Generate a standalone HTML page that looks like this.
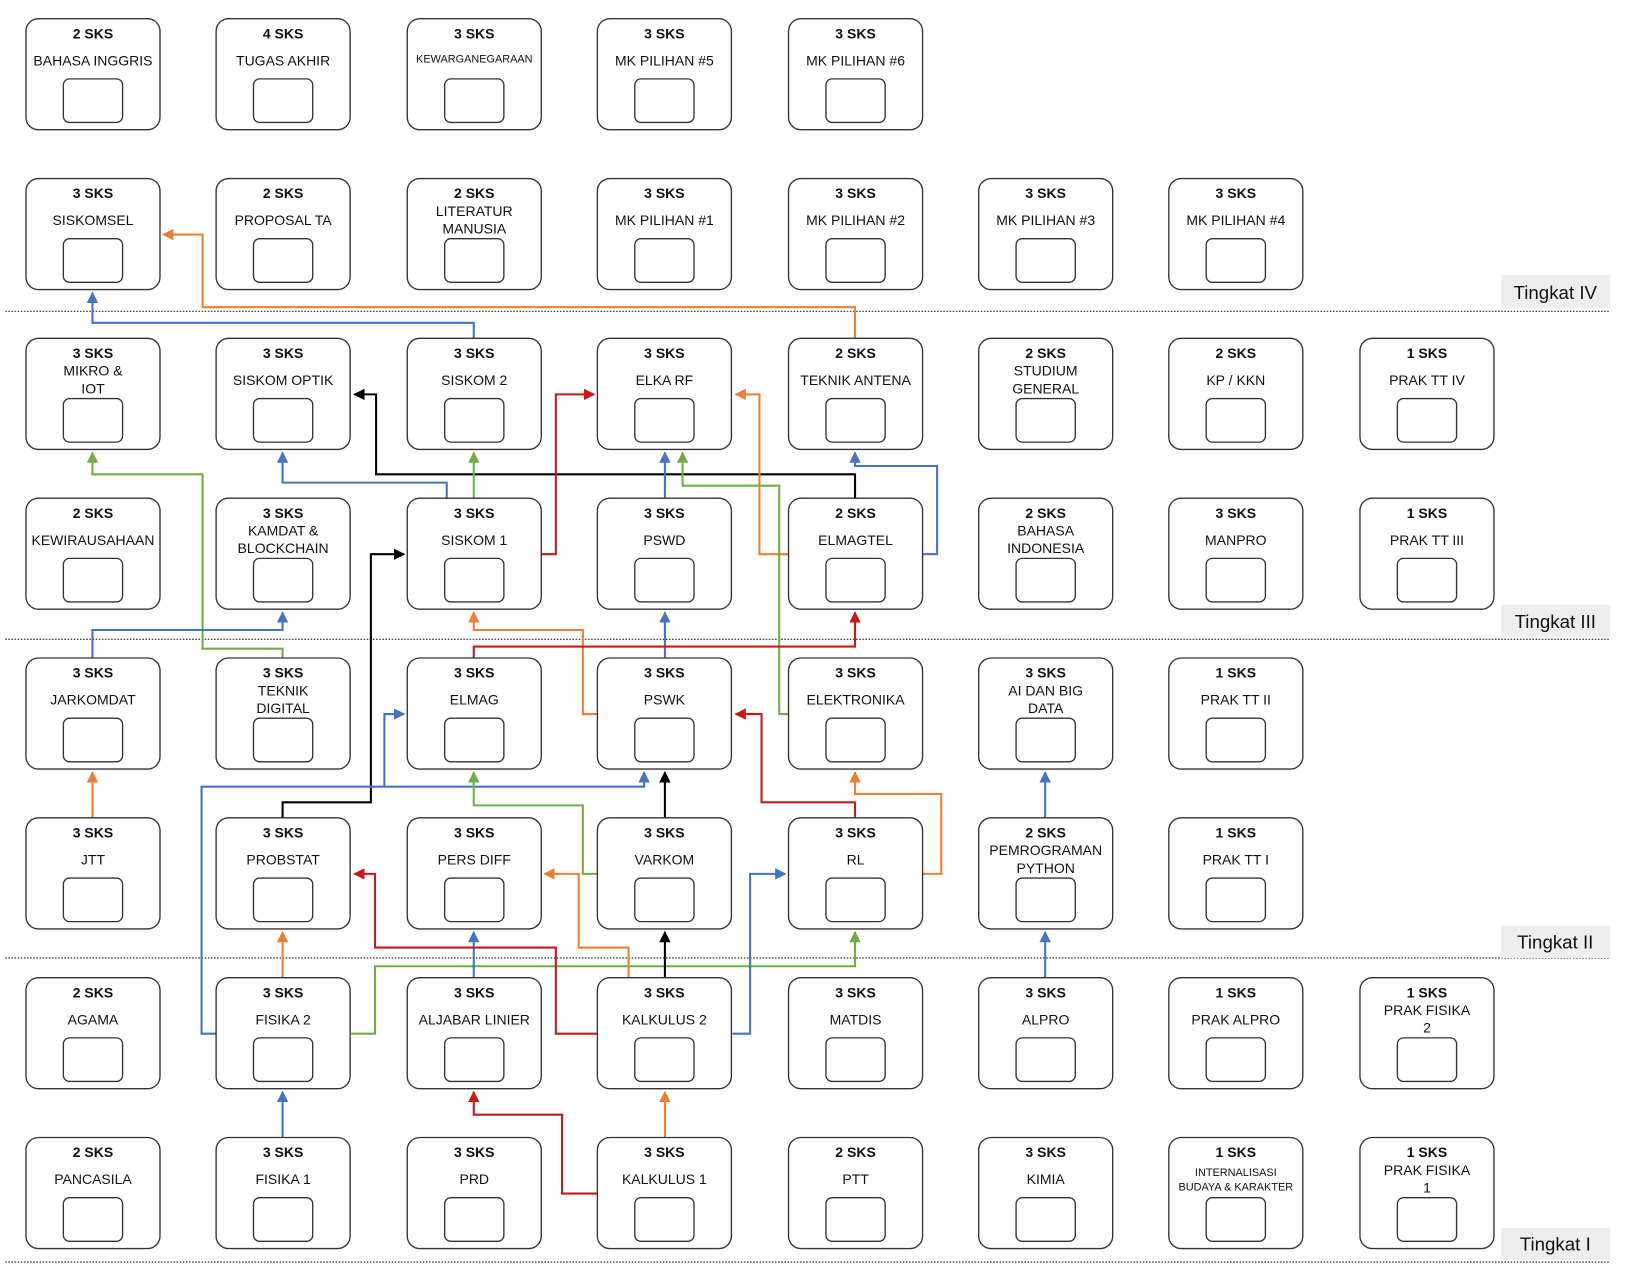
<!DOCTYPE html>
<html><head><meta charset="utf-8"><style>
html,body{margin:0;padding:0;background:#fff;}
svg{display:block;}
text{font-family:"Liberation Sans",Arial,sans-serif;text-anchor:middle;fill:#111;font-size:13.5px;}
text.s{font-weight:bold;}
text.sm{font-size:10.5px;}
text.t{font-size:18px;}
.o{fill:#fff;stroke:#333;stroke-width:1.3;}
.i{fill:#fff;stroke:#333;stroke-width:1.3;}
.l{fill:none;stroke-width:2;}
.or{stroke:#ec7f36;}.bl{stroke:#4472c4;}.gr{stroke:#70ad47;}.rd{stroke:#c81818;}.bk{stroke:#000;}
.sep{stroke:#444;stroke-width:1.3;stroke-dasharray:1.5 1.5;}
</style></head><body>
<svg width="1628" height="1277" viewBox="0 0 1567 1230.4" preserveAspectRatio="none" xmlns="http://www.w3.org/2000/svg">
<defs>
<marker id="aor" viewBox="0 0 10 10" refX="9" refY="5" markerWidth="11" markerHeight="11" markerUnits="userSpaceOnUse" orient="auto"><path d="M0,0L10,5L0,10z" fill="#ec7f36"/></marker>
<marker id="abl" viewBox="0 0 10 10" refX="9" refY="5" markerWidth="11" markerHeight="11" markerUnits="userSpaceOnUse" orient="auto"><path d="M0,0L10,5L0,10z" fill="#4472c4"/></marker>
<marker id="agr" viewBox="0 0 10 10" refX="9" refY="5" markerWidth="11" markerHeight="11" markerUnits="userSpaceOnUse" orient="auto"><path d="M0,0L10,5L0,10z" fill="#70ad47"/></marker>
<marker id="ard" viewBox="0 0 10 10" refX="9" refY="5" markerWidth="11" markerHeight="11" markerUnits="userSpaceOnUse" orient="auto"><path d="M0,0L10,5L0,10z" fill="#c81818"/></marker>
<marker id="abk" viewBox="0 0 10 10" refX="9" refY="5" markerWidth="11" markerHeight="11" markerUnits="userSpaceOnUse" orient="auto"><path d="M0,0L10,5L0,10z" fill="#000"/></marker>
</defs>

<!-- separators -->
<line class="sep" x1="5" y1="300" x2="1550" y2="300"/>
<line class="sep" x1="5" y1="616" x2="1550" y2="616"/>
<line class="sep" x1="5" y1="923" x2="1550" y2="923"/>
<line class="sep" x1="5" y1="1216" x2="1550" y2="1216"/>
<rect x="1445" y="265" width="105" height="32" fill="#eeeeee"/><text class="t" x="1497" y="288">Tingkat IV</text>
<rect x="1445" y="583" width="105" height="31" fill="#eeeeee"/><text class="t" x="1497" y="605">Tingkat III</text>
<rect x="1445" y="892" width="105" height="31" fill="#eeeeee"/><text class="t" x="1497" y="914">Tingkat II</text>
<rect x="1445" y="1183" width="105" height="31" fill="#eeeeee"/><text class="t" x="1497" y="1205">Tingkat I</text>

<!-- connectors -->
<path class="l or" d="M823,326V296H195V226H157" marker-end="url(#aor)"/>
<path class="l bl" d="M456,326V311H89V282" marker-end="url(#abl)"/>
<path class="l bk" d="M823,480V457H362V380H341" marker-end="url(#abk)"/>
<path class="l bl" d="M430,480V465H272V436" marker-end="url(#abl)"/>
<path class="l gr" d="M456,480V436" marker-end="url(#agr)"/>
<path class="l rd" d="M521,534H535V380H572" marker-end="url(#ard)"/>
<path class="l bl" d="M640,480V436" marker-end="url(#abl)"/>
<path class="l or" d="M759,534H731V380H708" marker-end="url(#aor)"/>
<path class="l gr" d="M759,688H750V468H657V436" marker-end="url(#agr)"/>
<path class="l bl" d="M888,534H902V449H823V436" marker-end="url(#abl)"/>
<path class="l gr" d="M272,634V625H195V457H89V436" marker-end="url(#agr)"/>
<path class="l bl" d="M89,634V607H272V590" marker-end="url(#abl)"/>
<path class="l or" d="M575,688H561V607H456V590" marker-end="url(#aor)"/>
<path class="l bl" d="M640,634V590" marker-end="url(#abl)"/>
<path class="l rd" d="M456,634V623H823V590" marker-end="url(#ard)"/>
<path class="l bk" d="M272,788V773H357V534H389" marker-end="url(#abk)"/>
<path class="l bl" d="M208,996H194V758H620V744" marker-end="url(#abl)"/>
<path class="l bl" d="M370,758V688H389" marker-end="url(#abl)"/>
<path class="l gr" d="M575,842H561V776H456V744" marker-end="url(#agr)"/>
<path class="l bk" d="M640,788V744" marker-end="url(#abk)"/>
<path class="l rd" d="M823,788V773H733V688H708" marker-end="url(#ard)"/>
<path class="l or" d="M888,842H906V765H823V744" marker-end="url(#aor)"/>
<path class="l or" d="M89,788V744" marker-end="url(#aor)"/>
<path class="l bl" d="M1006,942V898" marker-end="url(#abl)"/>
<path class="l bl" d="M1006,788V744" marker-end="url(#abl)"/>
<path class="l or" d="M272,942V898" marker-end="url(#aor)"/>
<path class="l gr" d="M338,996H361V931H823V898" marker-end="url(#agr)"/>
<path class="l bl" d="M456,942V898" marker-end="url(#abl)"/>
<path class="l rd" d="M575,996H535V913H361V842H341" marker-end="url(#ard)"/>
<path class="l or" d="M605,942V913H557V842H524" marker-end="url(#aor)"/>
<path class="l bk" d="M640,942V898" marker-end="url(#abk)"/>
<path class="l bl" d="M705,996H722V842H756" marker-end="url(#abl)"/>
<path class="l bl" d="M272,1096V1052" marker-end="url(#abl)"/>
<path class="l rd" d="M575,1150H541V1074H456V1052" marker-end="url(#ard)"/>
<path class="l or" d="M640,1096V1052" marker-end="url(#aor)"/>

<!-- Row 0 -->
<g transform="translate(25,18)"><rect class="o" width="129" height="107" rx="12"/><rect class="i" x="36" y="58" width="57" height="42" rx="6"/><text class="s" x="64.5" y="19">2 SKS</text><text x="64.5" y="45">BAHASA INGGRIS</text></g>
<g transform="translate(208,18)"><rect class="o" width="129" height="107" rx="12"/><rect class="i" x="36" y="58" width="57" height="42" rx="6"/><text class="s" x="64.5" y="19">4 SKS</text><text x="64.5" y="45">TUGAS AKHIR</text></g>
<g transform="translate(392,18)"><rect class="o" width="129" height="107" rx="12"/><rect class="i" x="36" y="58" width="57" height="42" rx="6"/><text class="s" x="64.5" y="19">3 SKS</text><text class="sm" x="64.5" y="42">KEWARGANEGARAAN</text></g>
<g transform="translate(575,18)"><rect class="o" width="129" height="107" rx="12"/><rect class="i" x="36" y="58" width="57" height="42" rx="6"/><text class="s" x="64.5" y="19">3 SKS</text><text x="64.5" y="45">MK PILIHAN #5</text></g>
<g transform="translate(759,18)"><rect class="o" width="129" height="107" rx="12"/><rect class="i" x="36" y="58" width="57" height="42" rx="6"/><text class="s" x="64.5" y="19">3 SKS</text><text x="64.5" y="45">MK PILIHAN #6</text></g>

<!-- Row 1 -->
<g transform="translate(25,172)"><rect class="o" width="129" height="107" rx="12"/><rect class="i" x="36" y="58" width="57" height="42" rx="6"/><text class="s" x="64.5" y="19">3 SKS</text><text x="64.5" y="45">SISKOMSEL</text></g>
<g transform="translate(208,172)"><rect class="o" width="129" height="107" rx="12"/><rect class="i" x="36" y="58" width="57" height="42" rx="6"/><text class="s" x="64.5" y="19">2 SKS</text><text x="64.5" y="45">PROPOSAL TA</text></g>
<g transform="translate(392,172)"><rect class="o" width="129" height="107" rx="12"/><rect class="i" x="36" y="58" width="57" height="42" rx="6"/><text class="s" x="64.5" y="19">2 SKS</text><text x="64.5" y="36">LITERATUR</text><text x="64.5" y="53">MANUSIA</text></g>
<g transform="translate(575,172)"><rect class="o" width="129" height="107" rx="12"/><rect class="i" x="36" y="58" width="57" height="42" rx="6"/><text class="s" x="64.5" y="19">3 SKS</text><text x="64.5" y="45">MK PILIHAN #1</text></g>
<g transform="translate(759,172)"><rect class="o" width="129" height="107" rx="12"/><rect class="i" x="36" y="58" width="57" height="42" rx="6"/><text class="s" x="64.5" y="19">3 SKS</text><text x="64.5" y="45">MK PILIHAN #2</text></g>
<g transform="translate(942,172)"><rect class="o" width="129" height="107" rx="12"/><rect class="i" x="36" y="58" width="57" height="42" rx="6"/><text class="s" x="64.5" y="19">3 SKS</text><text x="64.5" y="45">MK PILIHAN #3</text></g>
<g transform="translate(1125,172)"><rect class="o" width="129" height="107" rx="12"/><rect class="i" x="36" y="58" width="57" height="42" rx="6"/><text class="s" x="64.5" y="19">3 SKS</text><text x="64.5" y="45">MK PILIHAN #4</text></g>

<!-- Row 2 -->
<g transform="translate(25,326)"><rect class="o" width="129" height="107" rx="12"/><rect class="i" x="36" y="58" width="57" height="42" rx="6"/><text class="s" x="64.5" y="19">3 SKS</text><text x="64.5" y="36">MIKRO &amp;</text><text x="64.5" y="53">IOT</text></g>
<g transform="translate(208,326)"><rect class="o" width="129" height="107" rx="12"/><rect class="i" x="36" y="58" width="57" height="42" rx="6"/><text class="s" x="64.5" y="19">3 SKS</text><text x="64.5" y="45">SISKOM OPTIK</text></g>
<g transform="translate(392,326)"><rect class="o" width="129" height="107" rx="12"/><rect class="i" x="36" y="58" width="57" height="42" rx="6"/><text class="s" x="64.5" y="19">3 SKS</text><text x="64.5" y="45">SISKOM 2</text></g>
<g transform="translate(575,326)"><rect class="o" width="129" height="107" rx="12"/><rect class="i" x="36" y="58" width="57" height="42" rx="6"/><text class="s" x="64.5" y="19">3 SKS</text><text x="64.5" y="45">ELKA RF</text></g>
<g transform="translate(759,326)"><rect class="o" width="129" height="107" rx="12"/><rect class="i" x="36" y="58" width="57" height="42" rx="6"/><text class="s" x="64.5" y="19">2 SKS</text><text x="64.5" y="45">TEKNIK ANTENA</text></g>
<g transform="translate(942,326)"><rect class="o" width="129" height="107" rx="12"/><rect class="i" x="36" y="58" width="57" height="42" rx="6"/><text class="s" x="64.5" y="19">2 SKS</text><text x="64.5" y="36">STUDIUM</text><text x="64.5" y="53">GENERAL</text></g>
<g transform="translate(1125,326)"><rect class="o" width="129" height="107" rx="12"/><rect class="i" x="36" y="58" width="57" height="42" rx="6"/><text class="s" x="64.5" y="19">2 SKS</text><text x="64.5" y="45">KP / KKN</text></g>
<g transform="translate(1309,326)"><rect class="o" width="129" height="107" rx="12"/><rect class="i" x="36" y="58" width="57" height="42" rx="6"/><text class="s" x="64.5" y="19">1 SKS</text><text x="64.5" y="45">PRAK TT IV</text></g>

<!-- Row 3 -->
<g transform="translate(25,480)"><rect class="o" width="129" height="107" rx="12"/><rect class="i" x="36" y="58" width="57" height="42" rx="6"/><text class="s" x="64.5" y="19">2 SKS</text><text x="64.5" y="45">KEWIRAUSAHAAN</text></g>
<g transform="translate(208,480)"><rect class="o" width="129" height="107" rx="12"/><rect class="i" x="36" y="58" width="57" height="42" rx="6"/><text class="s" x="64.5" y="19">3 SKS</text><text x="64.5" y="36">KAMDAT &amp;</text><text x="64.5" y="53">BLOCKCHAIN</text></g>
<g transform="translate(392,480)"><rect class="o" width="129" height="107" rx="12"/><rect class="i" x="36" y="58" width="57" height="42" rx="6"/><text class="s" x="64.5" y="19">3 SKS</text><text x="64.5" y="45">SISKOM 1</text></g>
<g transform="translate(575,480)"><rect class="o" width="129" height="107" rx="12"/><rect class="i" x="36" y="58" width="57" height="42" rx="6"/><text class="s" x="64.5" y="19">3 SKS</text><text x="64.5" y="45">PSWD</text></g>
<g transform="translate(759,480)"><rect class="o" width="129" height="107" rx="12"/><rect class="i" x="36" y="58" width="57" height="42" rx="6"/><text class="s" x="64.5" y="19">2 SKS</text><text x="64.5" y="45">ELMAGTEL</text></g>
<g transform="translate(942,480)"><rect class="o" width="129" height="107" rx="12"/><rect class="i" x="36" y="58" width="57" height="42" rx="6"/><text class="s" x="64.5" y="19">2 SKS</text><text x="64.5" y="36">BAHASA</text><text x="64.5" y="53">INDONESIA</text></g>
<g transform="translate(1125,480)"><rect class="o" width="129" height="107" rx="12"/><rect class="i" x="36" y="58" width="57" height="42" rx="6"/><text class="s" x="64.5" y="19">3 SKS</text><text x="64.5" y="45">MANPRO</text></g>
<g transform="translate(1309,480)"><rect class="o" width="129" height="107" rx="12"/><rect class="i" x="36" y="58" width="57" height="42" rx="6"/><text class="s" x="64.5" y="19">1 SKS</text><text x="64.5" y="45">PRAK TT III</text></g>

<!-- Row 4 -->
<g transform="translate(25,634)"><rect class="o" width="129" height="107" rx="12"/><rect class="i" x="36" y="58" width="57" height="42" rx="6"/><text class="s" x="64.5" y="19">3 SKS</text><text x="64.5" y="45">JARKOMDAT</text></g>
<g transform="translate(208,634)"><rect class="o" width="129" height="107" rx="12"/><rect class="i" x="36" y="58" width="57" height="42" rx="6"/><text class="s" x="64.5" y="19">3 SKS</text><text x="64.5" y="36">TEKNIK</text><text x="64.5" y="53">DIGITAL</text></g>
<g transform="translate(392,634)"><rect class="o" width="129" height="107" rx="12"/><rect class="i" x="36" y="58" width="57" height="42" rx="6"/><text class="s" x="64.5" y="19">3 SKS</text><text x="64.5" y="45">ELMAG</text></g>
<g transform="translate(575,634)"><rect class="o" width="129" height="107" rx="12"/><rect class="i" x="36" y="58" width="57" height="42" rx="6"/><text class="s" x="64.5" y="19">3 SKS</text><text x="64.5" y="45">PSWK</text></g>
<g transform="translate(759,634)"><rect class="o" width="129" height="107" rx="12"/><rect class="i" x="36" y="58" width="57" height="42" rx="6"/><text class="s" x="64.5" y="19">3 SKS</text><text x="64.5" y="45">ELEKTRONIKA</text></g>
<g transform="translate(942,634)"><rect class="o" width="129" height="107" rx="12"/><rect class="i" x="36" y="58" width="57" height="42" rx="6"/><text class="s" x="64.5" y="19">3 SKS</text><text x="64.5" y="36">AI DAN BIG</text><text x="64.5" y="53">DATA</text></g>
<g transform="translate(1125,634)"><rect class="o" width="129" height="107" rx="12"/><rect class="i" x="36" y="58" width="57" height="42" rx="6"/><text class="s" x="64.5" y="19">1 SKS</text><text x="64.5" y="45">PRAK TT II</text></g>

<!-- Row 5 -->
<g transform="translate(25,788)"><rect class="o" width="129" height="107" rx="12"/><rect class="i" x="36" y="58" width="57" height="42" rx="6"/><text class="s" x="64.5" y="19">3 SKS</text><text x="64.5" y="45">JTT</text></g>
<g transform="translate(208,788)"><rect class="o" width="129" height="107" rx="12"/><rect class="i" x="36" y="58" width="57" height="42" rx="6"/><text class="s" x="64.5" y="19">3 SKS</text><text x="64.5" y="45">PROBSTAT</text></g>
<g transform="translate(392,788)"><rect class="o" width="129" height="107" rx="12"/><rect class="i" x="36" y="58" width="57" height="42" rx="6"/><text class="s" x="64.5" y="19">3 SKS</text><text x="64.5" y="45">PERS DIFF</text></g>
<g transform="translate(575,788)"><rect class="o" width="129" height="107" rx="12"/><rect class="i" x="36" y="58" width="57" height="42" rx="6"/><text class="s" x="64.5" y="19">3 SKS</text><text x="64.5" y="45">VARKOM</text></g>
<g transform="translate(759,788)"><rect class="o" width="129" height="107" rx="12"/><rect class="i" x="36" y="58" width="57" height="42" rx="6"/><text class="s" x="64.5" y="19">3 SKS</text><text x="64.5" y="45">RL</text></g>
<g transform="translate(942,788)"><rect class="o" width="129" height="107" rx="12"/><rect class="i" x="36" y="58" width="57" height="42" rx="6"/><text class="s" x="64.5" y="19">2 SKS</text><text x="64.5" y="36">PEMROGRAMAN</text><text x="64.5" y="53">PYTHON</text></g>
<g transform="translate(1125,788)"><rect class="o" width="129" height="107" rx="12"/><rect class="i" x="36" y="58" width="57" height="42" rx="6"/><text class="s" x="64.5" y="19">1 SKS</text><text x="64.5" y="45">PRAK TT I</text></g>

<!-- Row 6 -->
<g transform="translate(25,942)"><rect class="o" width="129" height="107" rx="12"/><rect class="i" x="36" y="58" width="57" height="42" rx="6"/><text class="s" x="64.5" y="19">2 SKS</text><text x="64.5" y="45">AGAMA</text></g>
<g transform="translate(208,942)"><rect class="o" width="129" height="107" rx="12"/><rect class="i" x="36" y="58" width="57" height="42" rx="6"/><text class="s" x="64.5" y="19">3 SKS</text><text x="64.5" y="45">FISIKA 2</text></g>
<g transform="translate(392,942)"><rect class="o" width="129" height="107" rx="12"/><rect class="i" x="36" y="58" width="57" height="42" rx="6"/><text class="s" x="64.5" y="19">3 SKS</text><text x="64.5" y="45">ALJABAR LINIER</text></g>
<g transform="translate(575,942)"><rect class="o" width="129" height="107" rx="12"/><rect class="i" x="36" y="58" width="57" height="42" rx="6"/><text class="s" x="64.5" y="19">3 SKS</text><text x="64.5" y="45">KALKULUS 2</text></g>
<g transform="translate(759,942)"><rect class="o" width="129" height="107" rx="12"/><rect class="i" x="36" y="58" width="57" height="42" rx="6"/><text class="s" x="64.5" y="19">3 SKS</text><text x="64.5" y="45">MATDIS</text></g>
<g transform="translate(942,942)"><rect class="o" width="129" height="107" rx="12"/><rect class="i" x="36" y="58" width="57" height="42" rx="6"/><text class="s" x="64.5" y="19">3 SKS</text><text x="64.5" y="45">ALPRO</text></g>
<g transform="translate(1125,942)"><rect class="o" width="129" height="107" rx="12"/><rect class="i" x="36" y="58" width="57" height="42" rx="6"/><text class="s" x="64.5" y="19">1 SKS</text><text x="64.5" y="45">PRAK ALPRO</text></g>
<g transform="translate(1309,942)"><rect class="o" width="129" height="107" rx="12"/><rect class="i" x="36" y="58" width="57" height="42" rx="6"/><text class="s" x="64.5" y="19">1 SKS</text><text x="64.5" y="36">PRAK FISIKA</text><text x="64.5" y="53">2</text></g>

<!-- Row 7 -->
<g transform="translate(25,1096)"><rect class="o" width="129" height="107" rx="12"/><rect class="i" x="36" y="58" width="57" height="42" rx="6"/><text class="s" x="64.5" y="19">2 SKS</text><text x="64.5" y="45">PANCASILA</text></g>
<g transform="translate(208,1096)"><rect class="o" width="129" height="107" rx="12"/><rect class="i" x="36" y="58" width="57" height="42" rx="6"/><text class="s" x="64.5" y="19">3 SKS</text><text x="64.5" y="45">FISIKA 1</text></g>
<g transform="translate(392,1096)"><rect class="o" width="129" height="107" rx="12"/><rect class="i" x="36" y="58" width="57" height="42" rx="6"/><text class="s" x="64.5" y="19">3 SKS</text><text x="64.5" y="45">PRD</text></g>
<g transform="translate(575,1096)"><rect class="o" width="129" height="107" rx="12"/><rect class="i" x="36" y="58" width="57" height="42" rx="6"/><text class="s" x="64.5" y="19">3 SKS</text><text x="64.5" y="45">KALKULUS 1</text></g>
<g transform="translate(759,1096)"><rect class="o" width="129" height="107" rx="12"/><rect class="i" x="36" y="58" width="57" height="42" rx="6"/><text class="s" x="64.5" y="19">2 SKS</text><text x="64.5" y="45">PTT</text></g>
<g transform="translate(942,1096)"><rect class="o" width="129" height="107" rx="12"/><rect class="i" x="36" y="58" width="57" height="42" rx="6"/><text class="s" x="64.5" y="19">3 SKS</text><text x="64.5" y="45">KIMIA</text></g>
<g transform="translate(1125,1096)"><rect class="o" width="129" height="107" rx="12"/><rect class="i" x="36" y="58" width="57" height="42" rx="6"/><text class="s" x="64.5" y="19">1 SKS</text><text class="sm" x="64.5" y="37">INTERNALISASI</text><text class="sm" x="64.5" y="51">BUDAYA &amp; KARAKTER</text></g>
<g transform="translate(1309,1096)"><rect class="o" width="129" height="107" rx="12"/><rect class="i" x="36" y="58" width="57" height="42" rx="6"/><text class="s" x="64.5" y="19">1 SKS</text><text x="64.5" y="36">PRAK FISIKA</text><text x="64.5" y="53">1</text></g>
</svg>
</body></html>
